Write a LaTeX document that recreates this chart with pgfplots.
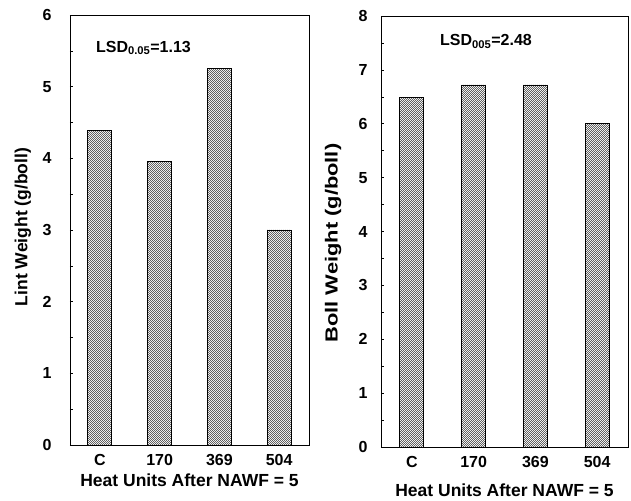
\documentclass[border=0pt]{standalone}
\usepackage{pgfplots}
\pgfplotsset{compat=1.18}
\usepackage{fontspec}
\setmainfont{Liberation Sans}
\usetikzlibrary{patterns.meta}

\tikzdeclarepattern{name=hatchL, type=uncolored, bounding box={(0,0) and (2.4pt,2.4pt)}, tile size={(2.4pt,2.4pt)},
  code={\pgfsetlinewidth{0.7pt}\pgfpathmoveto{\pgfpoint{-0.1pt}{2.5pt}}\pgfpathlineto{\pgfpoint{2.5pt}{-0.1pt}}\pgfusepath{stroke}}}
\tikzdeclarepattern{name=hatchR, type=uncolored, bounding box={(0,0) and (2.4pt,2.4pt)}, tile size={(2.4pt,2.4pt)},
  code={\pgfsetlinewidth{0.7pt}\pgfpathmoveto{\pgfpoint{-0.1pt}{-0.1pt}}\pgfpathlineto{\pgfpoint{2.5pt}{2.5pt}}\pgfusepath{stroke}}}

\pgfplotsset{
  panel/.style={
    scale only axis,
    anchor=south west,
    ybar, bar width=24pt,
    xtick=data,
    xticklabels={C,170,369,504},
    xmin=-0.5, xmax=3.5,
    ymin=0,
    axis line style={line width=0.9pt},
    tick style={black, line width=0.5pt},
    major tick length=3pt, minor tick length=3pt,
    xtick style={draw=none},
    ytick pos=left,
    minor y tick num=1,
    tick label style={font=\fontsize{16}{18}\selectfont\bfseries},
    xticklabel style={yshift=-3pt},
    label style={font=\fontsize{17.5}{20}\selectfont\bfseries},
    /pgf/number format/assume math mode=true,
    clip=false,
  },
}

\begin{document}
\begin{tikzpicture}
\path[use as bounding box] (0pt,0pt) rectangle (631pt,500pt);

% left panel
\begin{axis}[panel,
    at={(70pt,55pt)}, width=239pt, height=430pt,
    ymax=6, ytick={0,1,...,6},
    yticklabel style={xshift=-15pt},
    ylabel={Lint Weight (g/boll)},
    xlabel={Heat Units After NAWF = 5},
    ylabel style={at={(axis description cs:-0.197,0.507)}, anchor=center},
    xlabel style={at={(axis description cs:0.5,-0.082)}, anchor=center},
]
\addplot[draw=black, line width=0.9pt, pattern={hatchL}, pattern color=black!75] coordinates {
  (0,4.39) (1,3.95) (2,5.25) (3,3.0)
};
\node[anchor=center, font=\fontsize{16}{18}\selectfont\bfseries] at (axis cs:0.73,5.54) {LSD\textsubscript{0.05}=1.13};
\end{axis}

% right panel
\begin{axis}[panel,
    at={(381pt,53pt)}, width=247pt, height=431pt,
    ymax=8, ytick={0,1,...,8},
    yticklabel style={xshift=-10pt},
    ylabel={\scalebox{1.25}[1]{Boll Weight (g/boll)}},
    xlabel={Heat Units After NAWF = 5},
    ylabel style={at={(axis description cs:-0.194,0.473)}, anchor=center},
    xlabel style={at={(axis description cs:0.5,-0.1)}, anchor=center},
]
\addplot[draw=black, line width=0.9pt, pattern={hatchR}, pattern color=black!75] coordinates {
  (0,6.49) (1,6.72) (2,6.72) (3,6.0)
};
\node[anchor=center, font=\fontsize{16}{18}\selectfont\bfseries] at (axis cs:1.2,7.53) {LSD\textsubscript{005}=2.48};
\end{axis}
\end{tikzpicture}
\end{document}
